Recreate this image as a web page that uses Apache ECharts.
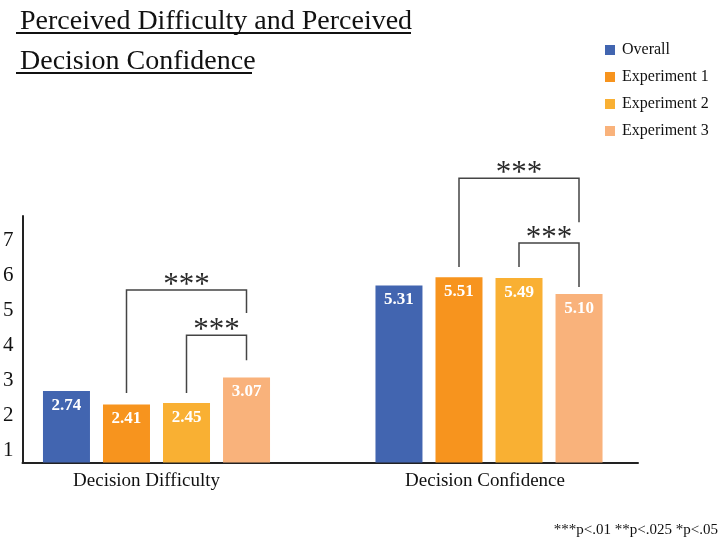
<!DOCTYPE html>
<html>
<head>
<meta charset="utf-8">
<script src="https://cdn.jsdelivr.net/npm/echarts@6/dist/echarts.min.js"></script>
<style>
  html, body { margin: 0; padding: 0; background: #fff; }
  #chart { width: 720px; height: 546px; }
</style>
</head>
<body>
<div id="chart"></div>
<script>
// data
const categories = ['Decision Difficulty', 'Decision Confidence']
const seriesNames = ['Overall', 'Experiment 1', 'Experiment 2', 'Experiment 3']
const overall = [2.74, 5.31]
const experiment1 = [2.41, 5.51]
const experiment2 = [2.45, 5.49]
const experiment3 = [3.07, 5.10]
const yTicks = [1, 2, 3, 4, 5, 6, 7]
// significance brackets: [category, fromBar, toBar, top, leftFoot, rightFoot]
const brackets = [
  [0, 1, 3, 5.20, 2.69, 4.64],
  [0, 2, 3, 4.10, 2.69, 3.49],
  [1, 1, 3, 7.92, 5.76, 6.85],
  [1, 2, 3, 6.34, 5.76, 5.27]
]
const starText = '***'

const colors = ['#4265b0', '#f7941e', '#f9b033', '#f9b27b']
const serif = '"Liberation Serif", "Times New Roman", serif'
const barWidth = 47
const barStep = 60

let chart = echarts.init(document.getElementById('chart'))

let barSeries = [overall, experiment1, experiment2, experiment3].map((vals, i) => ({
  name: seriesNames[i],
  type: 'bar',
  xAxisIndex: 1,
  yAxisIndex: 1,
  clip: false,
  barWidth: barWidth,
  barGap: ((barStep - barWidth) / barWidth * 100).toFixed(1) + '%',
  itemStyle: { color: colors[i] },
  label: {
    show: true,
    position: 'insideTop',
    distance: 6,
    color: '#fff',
    fontFamily: serif,
    fontWeight: 'bold',
    fontSize: 17,
    formatter: p => p.value.toFixed(2)
  },
  data: vals
}))

let bracketSeries = {
  type: 'custom',
  xAxisIndex: 1,
  yAxisIndex: 1,
  silent: true,
  clip: false,
  encode: { x: 0, y: [3, 4, 5] },
  data: brackets,
  renderItem(params, api) {
    let cx = api.coord([api.value(0), 1])[0]
    let x1 = cx + (api.value(1) - 1.5) * barStep
    let x2 = cx + (api.value(2) - 1.5) * barStep
    let top = api.coord([api.value(0), api.value(3)])[1]
    let lf = api.coord([api.value(0), api.value(4)])[1]
    let rf = api.coord([api.value(0), api.value(5)])[1]
    return {
      type: 'group',
      children: [
        {
          type: 'polyline',
          shape: { points: [[x1, lf], [x1, top], [x2, top], [x2, rf]] },
          style: { stroke: '#444', lineWidth: 1.5, fill: null }
        },
        {
          type: 'text',
          style: {
            text: starText,
            x: (x1 + x2) / 2,
            y: top - 4,
            align: 'center',
            verticalAlign: 'middle',
            fontFamily: serif,
            fontSize: 31,
            fill: '#2a2a2a'
          }
        }
      ]
    }
  }
}

let options = {
  animation: false,
  title: {
    text: 'Perceived Difficulty and Perceived\nDecision Confidence',
    left: 15,
    top: -3,
    textStyle: {
      fontFamily: serif,
      fontWeight: 'normal',
      fontSize: 28,
      lineHeight: 40,
      color: '#111'
    }
  },
  legend: {
    orient: 'vertical',
    left: 600,
    top: 37,
    itemWidth: 10,
    itemHeight: 10,
    itemGap: 11,
    icon: 'rect',
    data: seriesNames,
    textStyle: {
      fontFamily: serif,
      fontSize: 16,
      color: '#111',
      padding: [0, 0, 0, 2]
    }
  },
  graphic: [
    { type: 'line', shape: { x1: 16, y1: 33, x2: 411, y2: 33 }, style: { stroke: '#111', lineWidth: 2 } },
    { type: 'line', shape: { x1: 16, y1: 73, x2: 252, y2: 73 }, style: { stroke: '#111', lineWidth: 2 } },
    {
      type: 'text',
      right: 2,
      top: 523,
      style: {
        text: '***p<.01 **p<.025 *p<.05',
        fontFamily: serif,
        fontSize: 15,
        fill: '#111'
      }
    }
  ],
  grid: [
    { left: 22, top: 216, width: 616, height: 246.5 },
    { left: 156.5, top: 216, width: 332.5, height: 246.5 }
  ],
  xAxis: [
    {
      gridIndex: 0,
      type: 'value',
      axisLine: { show: true, lineStyle: { color: '#222', width: 2 } },
      axisTick: { show: false },
      axisLabel: { show: false },
      splitLine: { show: false }
    },
    {
      gridIndex: 1,
      type: 'category',
      data: categories,
      boundaryGap: false,
      axisLine: { show: false },
      axisTick: { show: false },
      axisLabel: {
        margin: 9,
        formatter: (v, i) => (i === 0 ? '{a|' : '{b|') + v + '}',
        rich: {
          a: { fontFamily: serif, fontSize: 19, color: '#111', padding: [0, 20, 0, 0] },
          b: { fontFamily: serif, fontSize: 19, color: '#111', padding: [0, 8, 0, 0] }
        }
      }
    }
  ],
  yAxis: [
    {
      gridIndex: 0,
      type: 'value',
      min: 0.643,
      max: 7.686,
      axisLine: { show: true, lineStyle: { color: '#222', width: 2 } },
      axisTick: { show: false },
      splitLine: { show: false },
      axisLabel: {
        customValues: yTicks,
        margin: 9,
        fontFamily: serif,
        fontSize: 21,
        color: '#111'
      }
    },
    {
      gridIndex: 1,
      type: 'value',
      min: 1,
      max: 7,
      startValue: 1,
      show: false,
      splitLine: { show: false }
    }
  ],
  series: [...barSeries, bracketSeries]
}
chart.setOption(options)
</script>
</body>
</html>
